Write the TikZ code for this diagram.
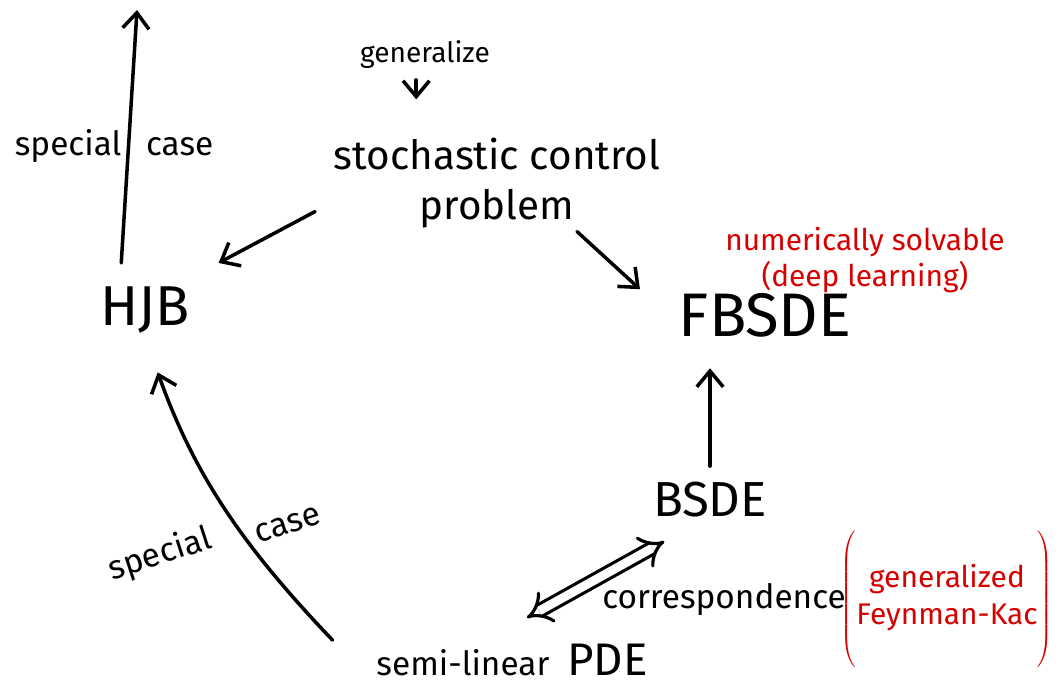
\documentclass[tikz,border=0pt]{standalone}
\usepackage{fontspec}
\setmainfont{Fira Sans}
\usetikzlibrary{arrows.meta,positioning,calc}
\definecolor{inkred}{RGB}{215,0,0}
\tikzset{
  word/.style={font=\fontsize{19}{22}\selectfont, inner sep=2pt},
  big/.style={font=\fontsize{32}{36}\selectfont, inner sep=2pt},
  note/.style={font=\fontsize{17}{21}\selectfont, text=inkred, align=center, inner sep=1pt},
  flow/.style={line width=2pt, line cap=round, -{Straight Barb[length=9pt,width=15pt]}},
}
\begin{document}
\begin{tikzpicture}[x=0.02cm,y=-0.02cm]
    \useasboundingbox (0,0) rectangle (1059,691);

    % problems and equations
    \node[word, font=\fontsize{16}{18}\selectfont] (gen) at (425,55) {generalize};
    \node[word, font=\fontsize{23}{28}\selectfont, align=center] (scp) at (497,183) {stochastic control\\problem};
    \node[big] (hjb) at (145,310) {HJB};
    \node[big, font=\fontsize{35}{40}\selectfont] (fbsde) at (765,315) {FBSDE};
    \node[big, font=\fontsize{28}{32}\selectfont] (bsde) at (710,500) {BSDE};
    \node[word] (pde) at (512,660) {semi-linear\ \ {\fontsize{26}{30}\selectfont PDE}};
    \node[word] (corr) at (724,600) {correspondence};

    % red remarks
    \node[note] (num) at (865,260) {numerically solvable\\(deep learning)};
    \node[note] (fk) at (947,600) {$\left(\vrule height 36pt depth 36pt width 0pt
        \begin{tabular}{@{}c@{}}generalized\\Feynman-Kac\end{tabular}\right)$};

    % arrows
    \draw[flow, shorten <=4pt, shorten >=20pt] ([xshift=-5pt]gen.south) -- ([xshift=-5pt]gen.south |- scp.north);
    \coordinate (top) at (137,10);
    \draw[flow, shorten <=0.4cm] ([xshift=-0.5cm]hjb.north) -- (top)
        node[word, midway, left, inner sep=3pt] {special}
        node[word, midway, right, inner sep=9pt] {case};
    \draw[flow] ([xshift=-0.3cm,yshift=0.4cm]scp.south west) -- ([xshift=0.5cm,yshift=0.4cm]hjb.north east);
    \draw[flow] ([xshift=1.6cm]scp.south) -- ([xshift=-0.7cm]fbsde.north west);
    \draw[flow, shorten <=0.25cm, shorten >=0.55cm] (bsde.north) -- (bsde.north |- fbsde.south);
    \draw[double, line width=1.8pt, double distance=5pt, {Implies[length=9pt,width=16pt]}-{Implies[length=9pt,width=16pt]}]
        ([xshift=0.3cm,yshift=0.45cm]pde.north) -- ([xshift=0.3cm,yshift=-0.4cm]bsde.south west);
    \draw[flow, shorten >=0.75cm] ([xshift=-0.8cm]pde.north west) to[bend left=12] (hjb.south);
    \node[word, rotate=18] (sp) at (160,555) {special};
    \node[word, rotate=18] (cs) at (288,525) {case};
\end{tikzpicture}
\end{document}
